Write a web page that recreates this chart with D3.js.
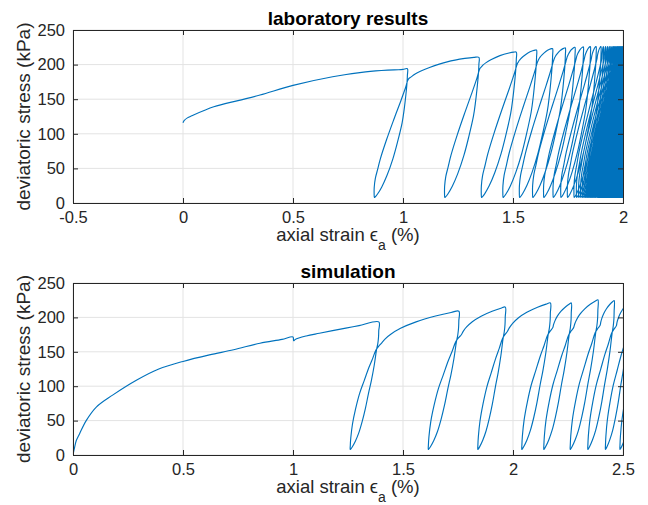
<!DOCTYPE html>
<html><head><meta charset="utf-8">
<script src="https://cdn.jsdelivr.net/npm/d3@7"></script>
<style>body{margin:0;background:#fff}svg{display:block}</style>
</head><body>
<svg id="chart" width="648" height="505"></svg>
<script>
// ---------------- DATA ----------------
const yTicks = [0, 50, 100, 150, 200, 250];
const labXTicks = [-0.5, 0, 0.5, 1, 1.5, 2];
const labXTickLabels = ["-0.5", "0", "0.5", "1", "1.5", "2"];
const simXTicks = [0, 0.5, 1, 1.5, 2, 2.5];
const simXTickLabels = ["0", "0.5", "1", "1.5", "2", "2.5"];

// laboratory: initial monotonic loading (strain %, stress kPa)
const labInitial = [[0,116],[0.005,119],[0.02,123],[0.04,126],[0.14,139],[0.25,148],[0.35,156],[0.5,170],[0.68,182.5],[0.83,189.5],[0.93,192],[0.98,192.5],[1.0,193],[1.02,194]];
// laboratory cycles: strain at each peak before unloading
const labPeakStrain = [1.02,1.345,1.515,1.607,1.68,1.738,1.782,1.82,1.852,1.878,
  1.9,1.911,1.921,1.93,1.938,1.945,1.951,1.957,1.962,1.967,1.972,1.976,1.98,1.984,1.988,1.992,1.996,2.0,
  2.004,2.007,2.01,2.013,2.016,2.019,2.022,2.025,2.028,2.031,2.034,2.037,2.04,2.043,2.046,2.049,2.052,2.055,2.058,2.061,2.064,
  2.067,2.07,2.073,2.076,2.079,2.082,2.085,2.088,2.091,2.094,2.097,2.1,2.103,2.106,2.109,2.112,2.115,2.118,2.121,2.124,
  2.127,2.13,2.133,2.136,2.139,2.142,2.145,2.148,2.151,2.154,2.157,2.16];
// peak stresses of the first cycles; later cycles sit on the plateau
const labPeakStress = [194,210.5,218,221,223,224,225,225.5,226,226];
const labPlateauStress = 226;
// trough strain of each cycle
const labTroughStrain = [0.87,1.19,1.357,1.455,1.53,1.59,1.64,1.683,1.718,1.748,
  1.778,1.789,1.799,1.808,1.816,1.823,1.829,1.835,1.84,1.845,1.85,1.854,1.858,1.862,1.866,1.87,1.874,1.878,
  1.884,1.887,1.89,1.893,1.896,1.899,1.902,1.905,1.908,1.911,1.914,1.917,1.92,1.923,1.926,1.929,1.932,1.935,1.938,1.941,1.944,
  1.947,1.95,1.953,1.956,1.959,1.962,1.965,1.968,1.971,1.974,1.977,1.98,1.983,1.986,1.989,1.992,1.995,1.998,2.001,2.004,
  2.007,2.01,2.013,2.016,2.019,2.022,2.025,2.028,2.031,2.034,2.037];
const labTroughStress = 8;
// laboratory loop shape (fraction of the strain / stress range of each loop)
const labUnloadShape = [[1,0.95],[0.985,0.88],[0.955,0.8],[0.9,0.68],[0.84,0.58],[0.7,0.43],[0.56,0.3],[0.38,0.17],[0.22,0.08],[0.09,0.025],[0.015,0.002],[0,0]];
const labReloadShape = [[-0.008,0.03],[-0.005,0.08],[0.03,0.15],[0.1,0.22],[0.18,0.3],[0.37,0.45],[0.58,0.6],[0.8,0.75],[0.94,0.85],[1.03,0.92]];
const labBackboneShape = [[0.04,0.1],[0.09,0.22],[0.17,0.36],[0.3,0.53],[0.55,0.79],[0.8,0.95],[0.93,1],[1,1]];

// simulation: initial monotonic loading
const simInitial = [[0,0],[0.008,12],[0.015,21],[0.03,31],[0.06,50],[0.107,70],[0.18,87],[0.29,109],[0.39,125],[0.5,136],[0.62,145.5],[0.73,153],[0.85,162.5],[0.95,168],[1.0,171.5],[1.003,166],[1.01,168],[1.06,173],[1.12,177],[1.24,184.5],[1.3,188],[1.39,193.5]];
const simPeakStrain = [1.39,1.754,1.965,2.17,2.265,2.386,2.46,2.53,2.6,2.68];
const simPeakStress = [193.5,209,215,221,221,225.5,224.5,222,222,222];
const simPlateauStress = 222;
const simTroughStrain = [1.26,1.615,1.84,2.04,2.14,2.26,2.34,2.42,2.486];
const simTroughStress = 8;
const simUnloadShape = [[0.998,0.93],[0.99,0.88],[0.965,0.83],[0.92,0.78],[0.84,0.66],[0.74,0.54],[0.64,0.44],[0.53,0.32],[0.42,0.22],[0.3,0.13],[0.18,0.065],[0.07,0.02],[0.012,0.002],[0,0]];
const simReloadShape = [[0.003,0.03],[0.02,0.09],[0.08,0.2],[0.19,0.32],[0.33,0.44],[0.49,0.54],[0.65,0.64],[0.78,0.71],[0.9,0.78],[1.0,0.81],[1.08,0.83]];
const simBackboneShape = [[0.05,0.14],[0.12,0.28],[0.25,0.47],[0.45,0.67],[0.7,0.85],[0.9,0.96],[1,1]];

// ---------------- BUILD ----------------
function buildPath(initial, peaksX, peaksY, plateau, troughs, lo, U, R, K) {
  const pts = initial.slice();
  const sy = i => (peaksY[i] !== undefined ? peaksY[i] : plateau);
  const n = Math.min(peaksX.length, troughs.length + 1);
  for (let i = 1; i < n; i++) {
    const p0 = peaksX[i-1], s0 = sy(i-1), b = troughs[i-1];
    U.forEach(([u,v]) => pts.push([b + u*(p0-b), lo + v*(s0-lo)]));
    R.forEach(([u,v]) => pts.push([b + u*(p0-b), lo + v*(s0-lo)]));
    const last = R[R.length-1];
    const kx = b + last[0]*(p0-b), ky = lo + last[1]*(s0-lo);
    const p1 = peaksX[i], s1 = sy(i);
    K.forEach(([u,v]) => pts.push([kx + u*(p1-kx), ky + v*(s1-ky)]));
  }
  return pts;
}

const svg = d3.select("#chart");
const FONT = "'Liberation Sans', Arial, Helvetica, sans-serif";
const blue = "#0072BD";

function panel(cfg) {
  const {x0, x1, y0, y1, xDomain, xTicks, xLabels, title, pts, id} = cfg;
  const x = d3.scaleLinear().domain(xDomain).range([x0, x1]);
  const y = d3.scaleLinear().domain([0, 250]).range([y1, y0]);
  const g = svg.append("g");

  g.append("g").selectAll("line").data(xTicks).join("line")
    .attr("x1", d => x(d)).attr("x2", d => x(d)).attr("y1", y0).attr("y2", y1)
    .attr("stroke", "#e3e3e3").attr("stroke-width", 1);
  g.append("g").selectAll("line").data(yTicks).join("line")
    .attr("y1", d => y(d)).attr("y2", d => y(d)).attr("x1", x0).attr("x2", x1)
    .attr("stroke", "#e3e3e3").attr("stroke-width", 1);

  svg.append("clipPath").attr("id", id).append("rect")
    .attr("x", x0).attr("y", y0).attr("width", x1 - x0).attr("height", y1 - y0);

  const line = d3.line().x(d => x(d[0])).y(d => y(d[1])).curve(d3.curveCatmullRom.alpha(0.5));
  g.append("path").attr("clip-path", `url(#${id})`).attr("d", line(pts))
    .attr("fill", "none").attr("stroke", blue).attr("stroke-width", 1.15).attr("stroke-linejoin", "round");

  const axB = g.append("g").attr("transform", `translate(0,${y1})`)
    .call(d3.axisBottom(x).tickValues(xTicks).tickSize(-5).tickPadding(8).tickFormat((d, i) => xLabels[i]));
  const axT = g.append("g").attr("transform", `translate(0,${y0})`)
    .call(d3.axisTop(x).tickValues(xTicks).tickSize(-5).tickFormat(""));
  const axL = g.append("g").attr("transform", `translate(${x0},0)`)
    .call(d3.axisLeft(y).tickValues(yTicks).tickSize(-5).tickPadding(8));
  const axR = g.append("g").attr("transform", `translate(${x1},0)`)
    .call(d3.axisRight(y).tickValues(yTicks).tickSize(-5).tickFormat(""));
  [axB, axT, axL, axR].forEach(a => {
    a.select(".domain").attr("stroke", "#262626").attr("stroke-width", 1);
    a.selectAll(".tick line").attr("stroke", "#262626");
    a.selectAll("text").attr("font-family", FONT).attr("font-size", 16.5).attr("fill", "#262626");
  });
  axB.selectAll("text").attr("dy", "0.71em");

  g.append("text").attr("x", (x0 + x1) / 2).attr("y", y0 - 5).attr("text-anchor", "middle")
    .attr("font-family", FONT).attr("font-weight", "bold").attr("font-size", 19).attr("fill", "#000").text(title);

  const xl = g.append("text").attr("x", (x0 + x1) / 2).attr("y", y1 + 38).attr("text-anchor", "middle")
    .attr("font-family", FONT).attr("font-size", 18.5).attr("fill", "#262626");
  xl.append("tspan").text("axial strain ϵ");
  xl.append("tspan").attr("dy", 9).attr("font-size", 14).text("a");
  xl.append("tspan").attr("dy", -9).text(" (%)");

  g.append("text").attr("transform", `translate(30,${(y0 + y1) / 2}) rotate(-90)`)
    .attr("text-anchor", "middle").attr("font-family", FONT).attr("font-size", 19).attr("fill", "#262626")
    .text("deviatoric stress (kPa)");
}

panel({x0: 73, x1: 623, y0: 30, y1: 203, xDomain: [-0.5, 2], xTicks: labXTicks, xLabels: labXTickLabels, title: "laboratory results", id: "clipLab",
  pts: buildPath(labInitial, labPeakStrain, labPeakStress, labPlateauStress, labTroughStrain, labTroughStress, labUnloadShape, labReloadShape, labBackboneShape)});
panel({x0: 73, x1: 623, y0: 283, y1: 455, xDomain: [0, 2.5], xTicks: simXTicks, xLabels: simXTickLabels, title: "simulation", id: "clipSim",
  pts: buildPath(simInitial, simPeakStrain, simPeakStress, simPlateauStress, simTroughStrain, simTroughStress, simUnloadShape, simReloadShape, simBackboneShape)});
</script>
</body></html>
